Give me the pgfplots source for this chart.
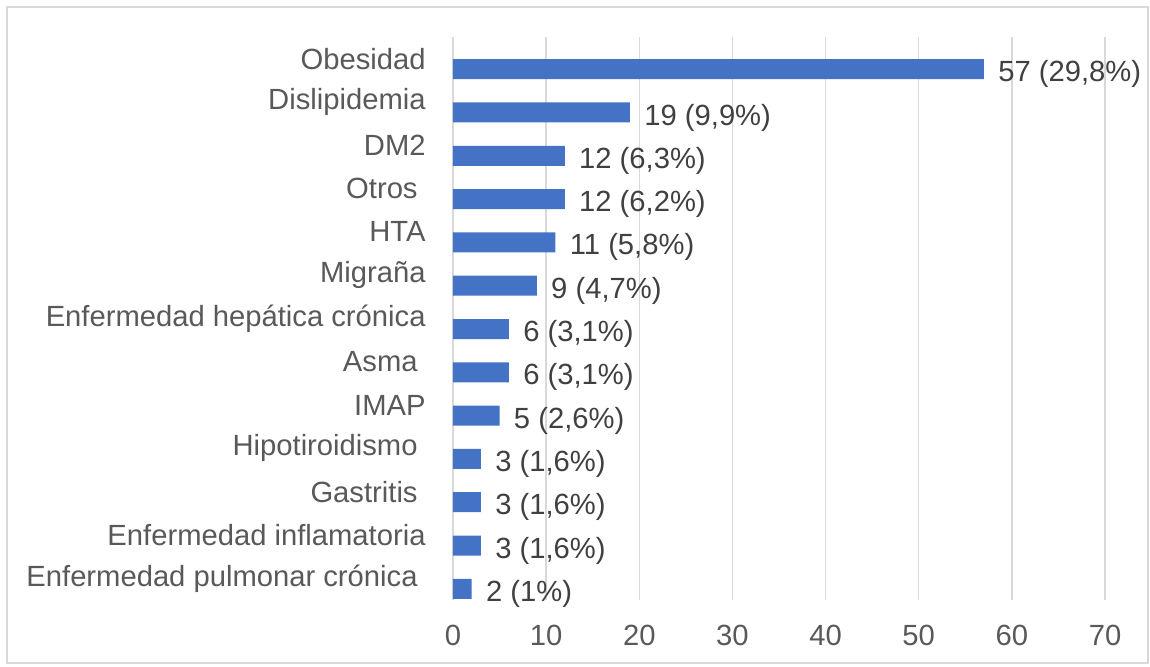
\documentclass[border=0pt]{standalone}
\usepackage{fontspec}
\setmainfont{Liberation Sans}
\usepackage{pgfplots}
\pgfplotsset{compat=1.18}
\definecolor{barblue}{HTML}{4472C4}
\definecolor{gridgray}{HTML}{D9D9D9}
\definecolor{txtgray}{HTML}{595959}
\definecolor{lblgray}{HTML}{404040}
\begin{document}
\begin{tikzpicture}
\path[use as bounding box] (-226.5pt,-33pt) rectangle (348.5pt,300pt);
\draw[gridgray, line width=0.75pt] (-223pt,-31.5pt) rectangle (347.5pt,296.5pt);
\begin{axis}[
 at={(0pt,0pt)}, anchor=south west,
 scale only axis, width=326pt, height=281.5pt,
 xbar, bar width=10pt, bar shift=-5.25pt,
 xmin=0, xmax=70, xtick={0,10,...,70},
 ymin=-0.5, ymax=12.5, y dir=reverse,
 ytick={0,...,12},
 yticklabels={Obesidad, Dislipidemia, DM2, Otros\kern4pt, HTA, Migraña, Enfermedad hepática crónica, Asma\kern4pt, IMAP, Hipotiroidismo\kern4pt, Gastritis\kern4pt, Enfermedad inflamatoria, Enfermedad pulmonar crónica\kern4pt},
 axis line style={draw=none},
 major tick length=0pt,
 xmajorgrids, grid style={gridgray, line width=0.7pt},
 tick label style={txtgray, font=\fontsize{14.6}{17}\selectfont, inner sep=0pt},
 /pgf/number format/assume math mode=true,
 xticklabel style={anchor=north, yshift=-12.5pt},
 yticklabel style={anchor=east, xshift=-13.5pt},
 nodes near coords, point meta=explicit symbolic,
 every node near coord/.append style={lblgray, font=\fontsize{14.6}{17}\selectfont, inner sep=0pt, anchor=west, xshift=7pt, yshift=-2.5pt},
]
\addplot[fill=barblue, draw=none] coordinates {
 (57,0) [57 (29,8\%)]
 (19,1) [19 (9,9\%)]
 (12,2) [12 (6,3\%)]
 (12,3) [12 (6,2\%)]
 (11,4) [11 (5,8\%)]
 (9,5) [9 (4,7\%)]
 (6,6) [6 (3,1\%)]
 (6,7) [6 (3,1\%)]
 (5,8) [5 (2,6\%)]
 (3,9) [3 (1,6\%)]
 (3,10) [3 (1,6\%)]
 (3,11) [3 (1,6\%)]
 (2,12) [2 (1\%)]
};
\end{axis}
\end{tikzpicture}
\end{document}
